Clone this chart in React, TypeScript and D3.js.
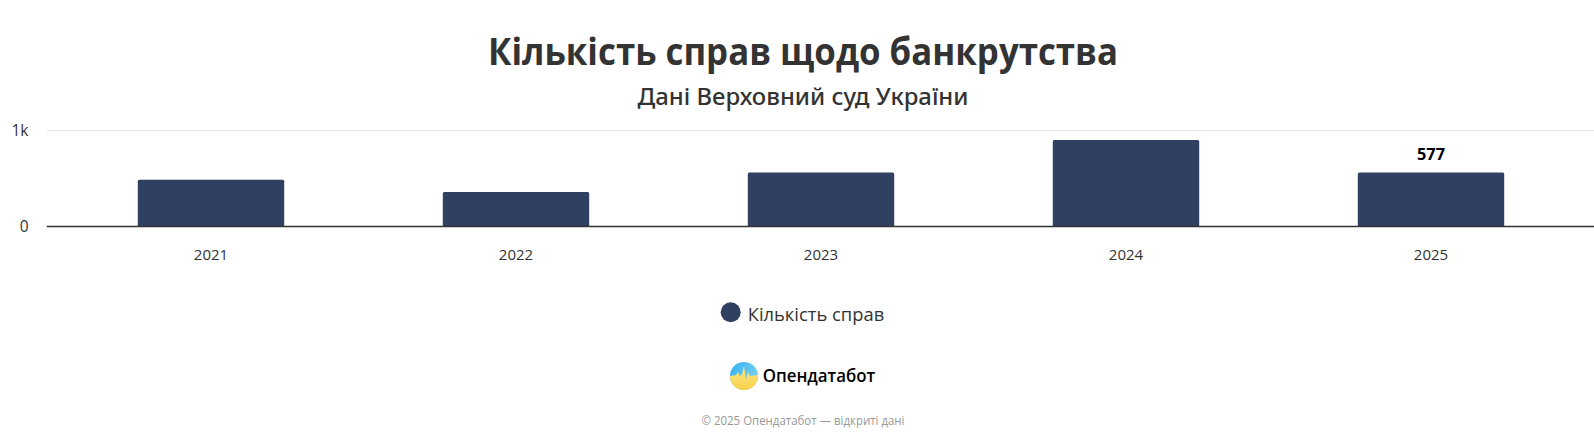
import React from "react";
import * as d3 from "d3";

const years = ["2021", "2022", "2023", "2024", "2025"];
const counts = [487, 359, 563, 900, 563];
const yTicks = [0, 1000];
const dataLabels: Record<string, string> = { "2025": "577" };
const W = 1594, H = 441;
const FONT = "'Open Sans', 'Noto Sans', sans-serif";
const NAVY = "#2f4060";

export default function App() {
  const x = d3.scaleBand<string>().domain(years).range([58.5, 1583.5]).paddingInner(0.52).paddingOuter(0.26);
  const y = d3.scaleLinear().domain([0, 1000]).range([226.5, 130.5]);
  const fmt = (v: number) => (v === 0 ? "0" : `${v / 1000}k`);
  return (
    <svg width={W} height={H} viewBox={`0 0 ${W} ${H}`} style={{ position: "absolute", left: 0, top: 0, background: "#fff" }} fontFamily={FONT}>
      <defs>
        <linearGradient id="logoTop" x1="0" y1="0" x2="1" y2="0.6">
          <stop offset="0" stopColor="#2fb0f5" />
          <stop offset="1" stopColor="#7fd0ee" />
        </linearGradient>
        <linearGradient id="logoBottom" x1="0" y1="0" x2="0" y2="1">
          <stop offset="0" stopColor="#f8e58a" />
          <stop offset="1" stopColor="#fbd24a" />
        </linearGradient>
        <clipPath id="logoClip"><circle cx={744} cy={376} r={14} /></clipPath>
      </defs>
      <text x={803} y={65} textAnchor="middle" fontSize={37} fontWeight={700} fill="#333333" textLength={630} lengthAdjust="spacingAndGlyphs">Кількість справ щодо банкрутства</text>
      <text x={803} y={105} textAnchor="middle" fontSize={24} fontWeight={500} fontFamily="'Noto Sans', sans-serif" fill="#333333" textLength={331} lengthAdjust="spacingAndGlyphs">Дані Верховний суд України</text>
      {yTicks.map((t) => (
        <g key={t}>
          {t !== 0 && <line x1={46.7} x2={W} y1={y(t)} y2={y(t)} stroke="#e6e6e6" strokeWidth={1} />}
          <text x={28.5} y={y(t) + 5.5} textAnchor="end" fontSize={15.5} fill="#333333">{fmt(t)}</text>
        </g>
      ))}
      {years.map((yr, i) => (
        <g key={yr}>
          <path
            d={`M${x(yr)!},${y(0)}V${y(counts[i]) + 1.5}q0,-1.5 1.5,-1.5H${x(yr)! + x.bandwidth() - 1.5}q1.5,0 1.5,1.5V${y(0)}Z`}
            fill={NAVY}
          />
          <text x={x(yr)! + x.bandwidth() / 2} y={259.5} textAnchor="middle" fontSize={15} fill="#333333">{yr}</text>
          {dataLabels[yr] && (
            <text x={x(yr)! + x.bandwidth() / 2} y={160} textAnchor="middle" fontSize={16.5} fontWeight={700} fill="#000" textLength={28} lengthAdjust="spacingAndGlyphs">{dataLabels[yr]}</text>
          )}
        </g>
      ))}
      <line x1={46.7} x2={W} y1={y(0)} y2={y(0)} stroke="#333333" strokeWidth={1.3} />
      <circle cx={730.7} cy={312.3} r={10} fill={NAVY} />
      <text x={747.7} y={321} fontSize={19} fill="#333333" textLength={136.5} lengthAdjust="spacingAndGlyphs">Кількість справ</text>
      <g clipPath="url(#logoClip)">
        <rect x={730} y={362} width={28} height={28} fill="url(#logoTop)" />
        <path d="M730,376 L736,375 L738,372 L740,376 L742,374 L744,366 L746,379 L748,372 L750,376 L758,375 V390 H730 Z" fill="url(#logoBottom)" />
      </g>
      <text x={762.7} y={382} fontSize={17.5} fontWeight={600} fill="#000" textLength={112.5} lengthAdjust="spacingAndGlyphs">Опендатабот</text>
      <text x={803} y={425} textAnchor="middle" fontSize={11.7} fill="#999999" textLength={203} lengthAdjust="spacingAndGlyphs">© 2025 Опендатабот — відкриті дані</text>
    </svg>
  );
}
